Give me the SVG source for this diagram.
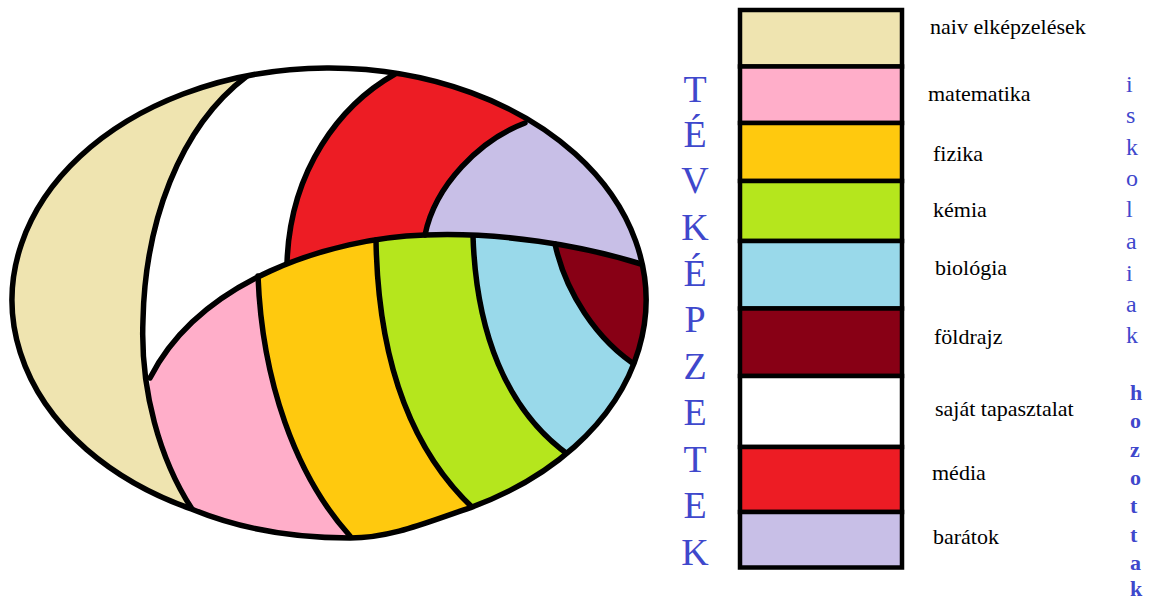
<svg xmlns="http://www.w3.org/2000/svg" width="1151" height="600" viewBox="0 0 1151 600">
<style>
.ln{fill:none;stroke:#000;stroke-width:5.5;stroke-linecap:round;stroke-linejoin:round}
.sw{stroke:#000;stroke-width:4.5}
.lbl{font-size:22px;fill:#000}
.big{font-size:38px;fill:#3F48CC;text-anchor:middle}
.sm{font-size:24px;fill:#3F48CC}
.smb{font-size:22px;font-weight:bold;fill:#3F48CC}
</style>
<defs>
<clipPath id="cOut"><path d="M192,509.2 C235,527 290,538 350,538 C392,538 430,521 470,507.8 A317,232 0 1,0 192,509.2 Z"/></clipPath>
<clipPath id="cLow"><path d="M641,264 C580,245 500,232 425,235 C330,238 200,280 150,378 C148,420 162,468 192,509 L192,600 L700,600 L700,264 Z"/></clipPath>
</defs>
<g id="chart">
<g clip-path="url(#cOut)">
<rect x="0" y="0" width="700" height="600" fill="#fff"/>
<path id="area-naiv" fill="#EFE4B0" d="M247,75.9 A317,232 0 0,0 192,509.2 C160,460 140,390 143,320 C145,225 178,128 247,76 Z"/>
<path id="area-media" fill="#ED1C24" d="M395,40 L395,74 C340,105 290,170 287,263 L287,300 L700,300 L700,40 Z"/>
<path id="area-baratok" fill="#C8BFE7" d="M530,40 L525,123 C480,140 435,185 425,235 L425,300 L700,300 L700,40 Z"/>
<g clip-path="url(#cLow)">
<rect id="area-matematika" x="0" y="200" width="700" height="400" fill="#FFAEC9"/>
<path id="area-fizika" fill="#FFC90E" d="M258,200 L258,276 C262,380 295,475 350,536 L350,600 L700,600 L700,200 Z"/>
<path id="area-kemia" fill="#B5E61D" d="M376,200 L376,240 C378,360 410,450 475,510 L475,600 L700,600 L700,200 Z"/>
<path id="area-biologia" fill="#99D9EA" d="M473,200 L473,236 C476,330 505,410 570,456 L570,600 L700,600 L700,200 Z"/>
<path id="area-foldrajz" fill="#880015" d="M555,200 L555,244 C565,290 595,340 640,368 L700,368 L700,200 Z"/>
</g>
<g id="lines">
<path class="ln" d="M192,509 C160,460 140,390 143,320 C145,225 178,128 247,76"/>
<path class="ln" d="M395,74 C340,105 290,170 287,263"/>
<path class="ln" d="M525,123 C480,140 435,185 425,235"/>
<path class="ln" d="M641,264 C580,245 500,232 425,235 C330,238 200,280 150,378"/>
<path class="ln" d="M258,276 C262,380 295,475 350,536"/>
<path class="ln" d="M376,240 C378,360 410,450 475,510"/>
<path class="ln" d="M473,236 C476,330 505,410 570,456"/>
<path class="ln" d="M555,244 C565,290 595,340 640,368"/>
</g>
</g>
<path id="outline" class="ln" d="M192,509.2 C235,527 290,538 350,538 C392,538 430,521 470,507.8 A317,232 0 1,0 192,509.2 Z"/>
</g>
<g id="legend" font-family="Liberation Serif, Times New Roman, serif">
<g id="row-naiv"><rect x="740" y="10" width="162" height="56.5" fill="#EFE4B0" class="sw"/><text x="930" y="34" class="lbl">naiv elképzelések</text></g>
<g id="row-matematika"><rect x="740" y="66.5" width="162" height="56.5" fill="#FFAEC9" class="sw"/><text x="928" y="101" class="lbl">matematika</text></g>
<g id="row-fizika"><rect x="740" y="123" width="162" height="58" fill="#FFC90E" class="sw"/><text x="933" y="161" class="lbl">fizika</text></g>
<g id="row-kemia"><rect x="740" y="181" width="162" height="60" fill="#B5E61D" class="sw"/><text x="933" y="217" class="lbl">kémia</text></g>
<g id="row-biologia"><rect x="740" y="241" width="162" height="67.5" fill="#99D9EA" class="sw"/><text x="935" y="275" class="lbl">biológia</text></g>
<g id="row-foldrajz"><rect x="740" y="308.5" width="162" height="67.5" fill="#880015" class="sw"/><text x="934" y="344" class="lbl">földrajz</text></g>
<g id="row-sajat"><rect x="740" y="376" width="162" height="71" fill="#FFFFFF" class="sw"/><text x="935" y="416" class="lbl">saját tapasztalat</text></g>
<g id="row-media"><rect x="740" y="447" width="162" height="65" fill="#ED1C24" class="sw"/><text x="932" y="480" class="lbl">média</text></g>
<g id="row-baratok"><rect x="740" y="512" width="162" height="55.5" fill="#C8BFE7" class="sw"/><text x="933" y="544" class="lbl">barátok</text></g>
</g>
<g id="side-left" font-family="Liberation Serif, Times New Roman, serif">
<text class="big"><tspan x="695" y="102">T</tspan><tspan x="695" y="147">É</tspan><tspan x="695" y="193">V</tspan><tspan x="695" y="240">K</tspan><tspan x="695" y="286">É</tspan><tspan x="695" y="332">P</tspan><tspan x="695" y="379">Z</tspan><tspan x="695" y="425">E</tspan><tspan x="695" y="472">T</tspan><tspan x="695" y="518">E</tspan><tspan x="695" y="565">K</tspan></text>
</g>
<g id="side-right" font-family="Liberation Serif, Times New Roman, serif">
<text class="sm"><tspan x="1126" y="92">i</tspan><tspan x="1126" y="123">s</tspan><tspan x="1126" y="155">k</tspan><tspan x="1126" y="186">o</tspan><tspan x="1126" y="217">l</tspan><tspan x="1126" y="249">a</tspan><tspan x="1126" y="281">i</tspan><tspan x="1126" y="312">a</tspan><tspan x="1126" y="343">k</tspan></text>
<text class="smb"><tspan x="1130" y="400">h</tspan><tspan x="1130" y="428">o</tspan><tspan x="1130" y="457">z</tspan><tspan x="1130" y="485">o</tspan><tspan x="1130" y="513">t</tspan><tspan x="1130" y="542">t</tspan><tspan x="1130" y="570">a</tspan><tspan x="1130" y="596">k</tspan></text>
</g>
</svg>
